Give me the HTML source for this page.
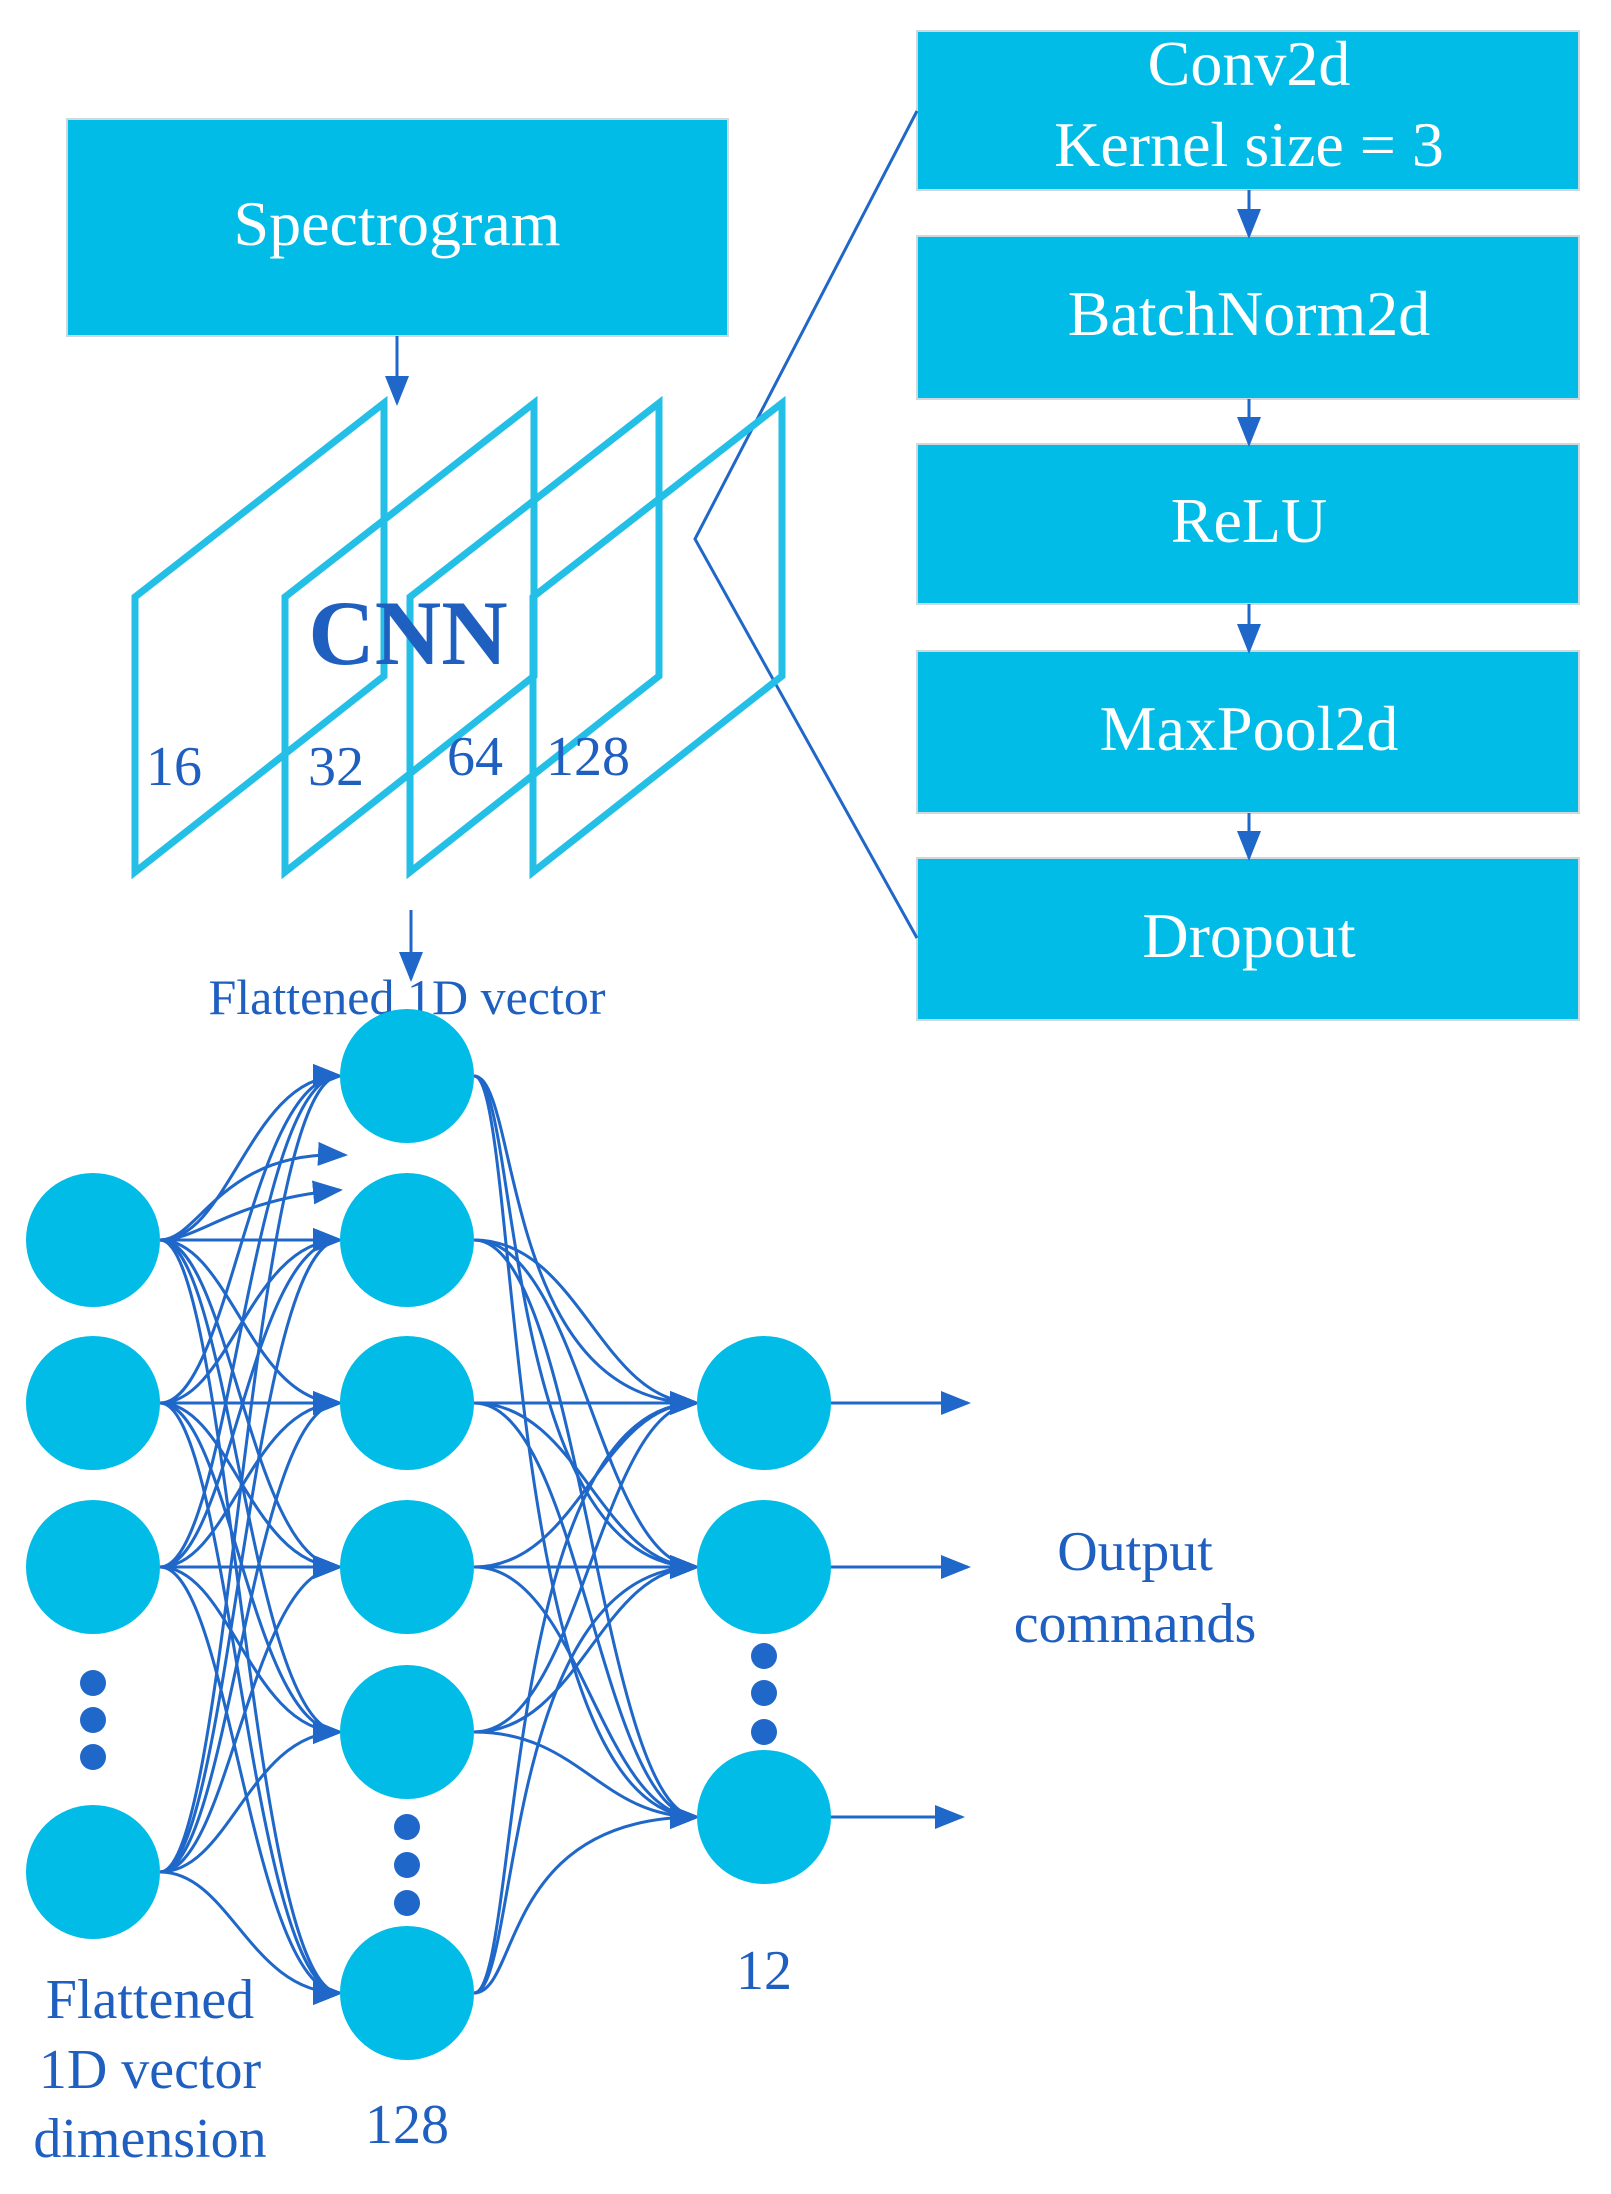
<!DOCTYPE html>
<html><head><meta charset="utf-8"><style>
html,body{margin:0;padding:0;background:#fff;}
svg{display:block;}
text{font-family:"Liberation Serif",serif;}
</style></head><body>
<svg width="1611" height="2194" viewBox="0 0 1611 2194" xmlns="http://www.w3.org/2000/svg">
<defs>
<marker id="b" viewBox="0 0 10 10" refX="9" refY="5" markerWidth="30" markerHeight="30" orient="auto" markerUnits="userSpaceOnUse">
<path d="M0,1 L10,5 L0,9 z" fill="#1f67c8"/></marker>
</defs>
<rect x="67" y="119" width="661" height="217" fill="#00bce6" stroke="#cfd8dc" stroke-width="2"/>
<text x="397" y="245" font-size="64" fill="#fff" text-anchor="middle">Spectrogram</text>
<line x1="397" y1="336" x2="397" y2="403" stroke="#1f67c8" stroke-width="3" marker-end="url(#b)"/>
<g fill="#00bce6" stroke="#cfd8dc" stroke-width="2">
<rect x="917" y="31" width="662" height="159"/>
<rect x="917" y="236" width="662" height="163"/>
<rect x="917" y="444" width="662" height="160"/>
<rect x="917" y="651" width="662" height="162"/>
<rect x="917" y="858" width="662" height="162"/>
</g>
<g fill="#fff" font-size="64" text-anchor="middle">
<text x="1249" y="85">Conv2d</text>
<text x="1249" y="166">Kernel size = 3</text>
<text x="1249" y="335">BatchNorm2d</text>
<text x="1249" y="542">ReLU</text>
<text x="1249" y="750">MaxPool2d</text>
<text x="1249" y="957">Dropout</text>
</g>
<g stroke="#1f67c8" stroke-width="3">
<line x1="1249" y1="190" x2="1249" y2="236" marker-end="url(#b)"/>
<line x1="1249" y1="399" x2="1249" y2="444" marker-end="url(#b)"/>
<line x1="1249" y1="604" x2="1249" y2="651" marker-end="url(#b)"/>
<line x1="1249" y1="813" x2="1249" y2="858" marker-end="url(#b)"/>
</g>
<polyline points="917,111 695,539 917,938" fill="none" stroke="#1f67c8" stroke-width="3"/>
<g fill="none" stroke="#24bfe6" stroke-width="7">
<polygon points="135,872 135,597 384,403 384,676"/>
<polygon points="285,872 285,597 534,403 534,676"/>
<polygon points="410,872 410,597 659,403 659,676"/>
<polygon points="533,872 533,597 782,403 782,676"/>
</g>
<text x="408" y="664" font-size="92" font-weight="bold" fill="#1f5fc0" text-anchor="middle">CNN</text>
<g font-size="56" fill="#1f5fc0">
<text x="146" y="785">16</text>
<text x="308" y="785">32</text>
<text x="447" y="775">64</text>
<text x="546" y="775">128</text>
</g>
<line x1="411" y1="910" x2="411" y2="979" stroke="#1f67c8" stroke-width="3" marker-end="url(#b)"/>
<text x="407" y="1014" font-size="50" fill="#1f5fc0" text-anchor="middle">Flattened 1D vector</text>
<g fill="none" stroke="#1f67c8" stroke-width="3" marker-end="url(#b)">
<path d="M160,1240 C230,1240 250,1076 340,1076"/><path d="M160,1240 C230,1240 250,1240 340,1240"/><path d="M160,1240 C230,1240 250,1403 340,1403"/><path d="M160,1240 C230,1240 250,1567 340,1567"/><path d="M160,1240 C230,1240 250,1732 340,1732"/><path d="M160,1240 C230,1240 250,1993 340,1993"/>
<path d="M160,1403 C230,1403 250,1076 340,1076"/><path d="M160,1403 C230,1403 250,1240 340,1240"/><path d="M160,1403 C230,1403 250,1403 340,1403"/><path d="M160,1403 C230,1403 250,1567 340,1567"/><path d="M160,1403 C230,1403 250,1732 340,1732"/><path d="M160,1403 C230,1403 250,1993 340,1993"/>
<path d="M160,1567 C230,1567 250,1076 340,1076"/><path d="M160,1567 C230,1567 250,1240 340,1240"/><path d="M160,1567 C230,1567 250,1403 340,1403"/><path d="M160,1567 C230,1567 250,1567 340,1567"/><path d="M160,1567 C230,1567 250,1732 340,1732"/><path d="M160,1567 C230,1567 250,1993 340,1993"/>
<path d="M160,1872 C230,1872 250,1076 340,1076"/><path d="M160,1872 C230,1872 250,1240 340,1240"/><path d="M160,1872 C230,1872 250,1403 340,1403"/><path d="M160,1872 C230,1872 250,1567 340,1567"/><path d="M160,1872 C230,1872 250,1732 340,1732"/><path d="M160,1872 C230,1872 250,1993 340,1993"/>
<path d="M160,1240 C200,1240 220,1150 345,1155"/><path d="M160,1240 C200,1240 230,1200 340,1190"/>
<path d="M474,1076 C520,1076 500,1403 697,1403"/><path d="M474,1076 C520,1076 500,1567 697,1567"/><path d="M474,1076 C520,1076 500,1817 697,1817"/>
<path d="M474,1240 C580,1240 600,1403 697,1403"/><path d="M474,1240 C580,1240 600,1567 697,1567"/><path d="M474,1240 C580,1240 600,1817 697,1817"/>
<path d="M474,1403 C580,1403 600,1403 697,1403"/><path d="M474,1403 C580,1403 600,1567 697,1567"/><path d="M474,1403 C580,1403 600,1817 697,1817"/>
<path d="M474,1567 C580,1567 600,1403 697,1403"/><path d="M474,1567 C580,1567 600,1567 697,1567"/><path d="M474,1567 C580,1567 600,1817 697,1817"/>
<path d="M474,1732 C580,1732 600,1403 697,1403"/><path d="M474,1732 C580,1732 600,1567 697,1567"/><path d="M474,1732 C580,1732 600,1817 697,1817"/>
<path d="M474,1993 C520,1993 500,1403 697,1403"/><path d="M474,1993 C520,1993 500,1567 697,1567"/><path d="M474,1993 C520,1993 500,1817 697,1817"/>
<path d="M831,1403 L968,1403"/><path d="M831,1567 L968,1567"/><path d="M831,1817 L962,1817"/>
</g>
<g fill="#00bce6">
<circle cx="93" cy="1240" r="67"/><circle cx="93" cy="1403" r="67"/><circle cx="93" cy="1567" r="67"/><circle cx="93" cy="1872" r="67"/>
<circle cx="407" cy="1076" r="67"/><circle cx="407" cy="1240" r="67"/><circle cx="407" cy="1403" r="67"/><circle cx="407" cy="1567" r="67"/><circle cx="407" cy="1732" r="67"/><circle cx="407" cy="1993" r="67"/>
<circle cx="764" cy="1403" r="67"/><circle cx="764" cy="1567" r="67"/><circle cx="764" cy="1817" r="67"/>
</g>
<g fill="#1f67c8">
<circle cx="93" cy="1683" r="13"/><circle cx="93" cy="1720" r="13"/><circle cx="93" cy="1757" r="13"/>
<circle cx="407" cy="1827" r="13"/><circle cx="407" cy="1865" r="13"/><circle cx="407" cy="1903" r="13"/>
<circle cx="764" cy="1656" r="13"/><circle cx="764" cy="1693" r="13"/><circle cx="764" cy="1732" r="13"/>
</g>
<g font-size="56" fill="#1f5fc0" text-anchor="middle">
<text x="1135" y="1570">Output</text>
<text x="1135" y="1642">commands</text>
<text x="764" y="1989">12</text>
<text x="407" y="2143">128</text>
<text x="150" y="2018">Flattened</text>
<text x="150" y="2088">1D vector</text>
<text x="150" y="2157">dimension</text>
</g>
</svg>
</body></html>
